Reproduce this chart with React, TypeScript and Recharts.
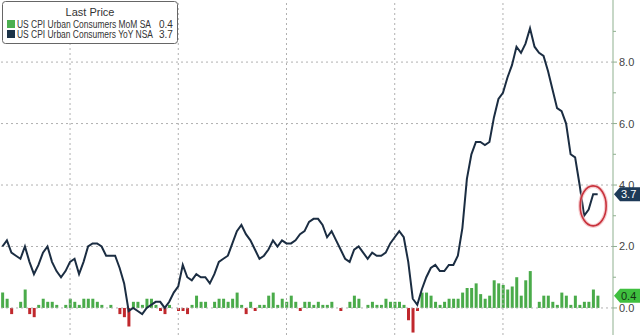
import React from 'react';
import {
  ComposedChart, Bar, Line, Scatter, XAxis, YAxis, Cell, ReferenceLine
} from 'recharts';

// monthly series, Sep 2012 .. Sep 2023
const startYear = 2012;
const startMonth = 8; // September, 0-based

// US CPI Urban Consumers YoY NSA (%)
const yoyNsa = [
  2.0, 2.2, 1.8, 1.7,
  1.6, 2.0, 1.5, 1.1, 1.4, 1.8, 2.0, 1.5, 1.2, 1.0, 1.2, 1.5,
  1.6, 1.1, 1.5, 2.0, 2.1, 2.1, 2.0, 1.7, 1.7, 1.7, 1.3, 0.8,
  -0.1, 0.0, -0.1, -0.2, 0.0, 0.1, 0.2, 0.2, 0.0, 0.2, 0.5, 0.7,
  1.4, 1.0, 0.9, 1.1, 1.0, 1.0, 0.8, 1.1, 1.5, 1.6, 1.7, 2.1,
  2.5, 2.7, 2.4, 2.2, 1.9, 1.6, 1.7, 1.9, 2.2, 2.0, 2.2, 2.1,
  2.1, 2.2, 2.4, 2.5, 2.8, 2.9, 2.9, 2.7, 2.3, 2.5, 2.2, 1.9,
  1.6, 1.5, 1.9, 2.0, 1.8, 1.6, 1.8, 1.7, 1.7, 1.8, 2.1, 2.3,
  2.5, 2.3, 1.5, 0.3, 0.1, 0.6, 1.0, 1.3, 1.4, 1.2, 1.2, 1.4,
  1.4, 1.7, 2.6, 4.2, 5.0, 5.4, 5.4, 5.3, 5.4, 6.2, 6.8, 7.0,
  7.5, 7.9, 8.5, 8.3, 8.6, 9.1, 8.5, 8.3, 8.2, 7.7, 7.1, 6.5,
  6.4, 6.0, 5.0, 4.9, 4.0, 3.0, 3.2, 3.7, 3.7,
];

// US CPI Urban Consumers MoM SA (%)
const momSa = [
  0.5, 0.3, -0.2, 0.0,
  0.2, 0.6, -0.2, -0.3, 0.1, 0.3, 0.2, 0.2, 0.1, 0.0, 0.1, 0.3,
  0.2, 0.1, 0.3, 0.3, 0.3, 0.2, 0.1, 0.0, 0.1, 0.0, -0.2, -0.3,
  -0.6, 0.2, 0.2, 0.1, 0.3, 0.3, 0.1, -0.1, -0.2, 0.1, 0.0, -0.1,
  -0.1, -0.2, 0.1, 0.4, 0.2, 0.2, 0.0, 0.2, 0.3, 0.3, 0.2, 0.3,
  0.5, 0.1, -0.2, 0.2, -0.1, 0.1, 0.1, 0.4, 0.5, 0.1, 0.3, 0.2,
  0.4, 0.2, -0.1, 0.2, 0.2, 0.1, 0.2, 0.1, 0.1, 0.2, 0.0, -0.1,
  0.0, 0.2, 0.4, 0.3, 0.0, 0.1, 0.2, 0.1, 0.1, 0.3, 0.2, 0.2,
  0.2, 0.1, -0.4, -0.8, -0.1, 0.5, 0.5, 0.4, 0.2, 0.1, 0.2, 0.3,
  0.3, 0.3, 0.5, 0.65, 0.65, 0.8, 0.45, 0.3, 0.4, 0.9, 0.8, 0.75,
  0.6, 0.7, 1.0, 0.4, 0.9, 1.2, 0.0, 0.2, 0.4, 0.4, 0.2, 0.1,
  0.5, 0.4, 0.1, 0.4, 0.1, 0.2, 0.2, 0.6, 0.4,
];

const yTicks = [0, 1, 2, 3, 4, 5, 6, 7, 8, 9];
const lastTags = [0.4, 3.7];
const gridValues = [0, 2, 4, 6, 8];
const gridMonths = ['2013-12', '2015-12', '2017-12', '2019-12', '2021-12'];

// highlight ring around the latest readings
const ringMonth = '2023-08';
const ringValue = 3.32;

const legendRows = [
  { name: 'US CPI Urban Consumers MoM SA', value: '0.4', color: '#4caf50', len: 134 },
  { name: 'US CPI Urban Consumers YoY NSA', value: '3.7', color: '#1c3348', len: 136 },
];

const months: string[] = yoyNsa.map((_, k) => {
  const m = startMonth + k;
  return `${startYear + Math.floor(m / 12)}-${String((m % 12) + 1).padStart(2, '0')}`;
});

const data = months.map((month, i) => ({ i, month, mom: momSa[i], yoy: yoyNsa[i] }));
const ringData = [{ i: months.indexOf(ringMonth), ring: ringValue }];

const GREEN = '#4aab4a';
const RED = '#c0282d';
const NAVY = '#1b2d42';
const FONT = '"Liberation Sans", Arial, sans-serif';

const AxisTick = ({ x, y, payload }: any) => {
  const v = payload.value;
  if (v === 3.7 || v === 0.4) {
    const navy = v === 3.7;
    return (
      <g>
        <polygon
          points={`${x + 1},${y} ${x + 7},${y - 7} 640,${y - 7} 640,${y + 7} ${x + 7},${y + 7}`}
          fill={navy ? '#1d3a58' : '#3fbf3f'}
        />
        <text x={x + 8} y={y + 4} fontSize={11} fill={navy ? '#fff' : '#143214'} fontFamily={FONT}>
          {v.toFixed(1)}
        </text>
      </g>
    );
  }
  const major = v % 2 === 0;
  return (
    <g>
      <line x1={x} x2={x + (major ? 4 : 3)} y1={y} y2={y} stroke="#8fb08f" />
      {major && (
        <text x={x + 6} y={y + 4} fontSize={11} fill="#444" fontFamily={FONT}>{v.toFixed(1)}</text>
      )}
    </g>
  );
};

const LegendBox = () => (
  <svg width={177} height={44} style={{ display: 'block' }}>
    <rect x={0.5} y={0.5} width={175} height={42} rx={3} fill="#fff" stroke="#666" />
    <text x={88} y={15} textAnchor="middle" fontSize={11} fill="#333" fontFamily={FONT}>Last Price</text>
    {legendRows.map((r, k) => (
      <g key={r.name}>
        <rect x={5} y={19 + k * 10} width={8} height={8} fill={r.color} />
        <text x={15} y={27 + k * 10} fontSize={10} fill="#333" fontFamily={FONT}
          textLength={r.len} lengthAdjust="spacingAndGlyphs">{r.name}</text>
        <text x={157} y={27 + k * 10} fontSize={10} fill="#333" fontFamily={FONT}>{r.value}</text>
      </g>
    ))}
  </svg>
);

const Ring = ({ cx, cy }: any) => (
  <g>
    <ellipse cx={cx} cy={cy} rx={13} ry={20} fill="none" stroke="#f2b8bc" strokeWidth={4} opacity={0.7} />
    <ellipse cx={cx} cy={cy} rx={13} ry={20} fill="none" stroke="#c8323c" strokeWidth={1.6} />
  </g>
);

export default function App() {
  return (
    <div style={{ position: 'absolute', left: 0, top: 0, width: 640, height: 335, background: '#fff' }}>
      <ComposedChart width={640} height={335} data={data} margin={{ top: 0, right: 0, bottom: 0, left: 0 }}>
        <XAxis dataKey="i" type="number" domain={[-0.53, 135.4]} hide allowDataOverflow />
        <YAxis
          orientation="right" width={27} domain={[-0.88, 10.02]} allowDataOverflow
          ticks={[...yTicks, ...lastTags]} interval={0} tick={<AxisTick />}
          tickLine={false} tickSize={0} tickMargin={0} axisLine={{ stroke: '#8fb08f' }}
        />
        {gridValues.map((v) => (
          <ReferenceLine key={`h${v}`} y={v} stroke="#b0b0b0" strokeDasharray="2 3" />
        ))}
        {gridMonths.map((m) => (
          <ReferenceLine key={m} x={months.indexOf(m)} stroke="#b0b0b0" strokeDasharray="2 3" />
        ))}
        <Bar dataKey="mom" barSize={3} isAnimationActive={false}>
          {data.map((d) => (
            <Cell key={d.month} fill={d.mom < 0 ? RED : GREEN} />
          ))}
        </Bar>
        <Line dataKey="yoy" type="linear" stroke={NAVY} strokeWidth={2} dot={false} activeDot={false} isAnimationActive={false} />
        <Scatter data={ringData} dataKey="ring" shape={<Ring />} isAnimationActive={false} />
      </ComposedChart>
      <div style={{ position: 'absolute', left: 2, top: 1 }}>
        <LegendBox />
      </div>
    </div>
  );
}
